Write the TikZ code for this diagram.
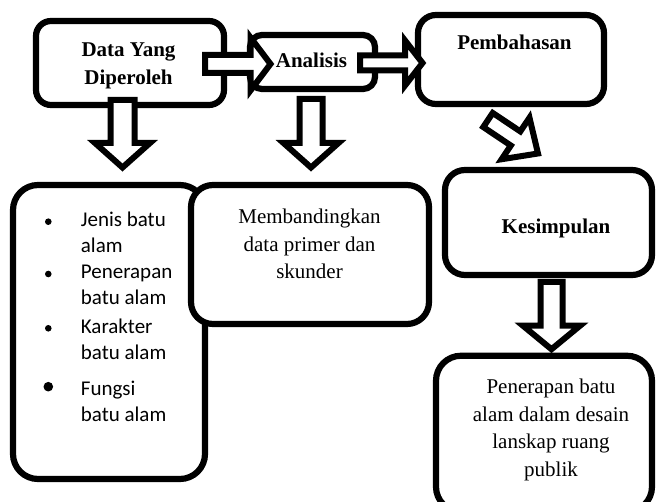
\documentclass[tikz,border=0pt]{standalone}
\usepackage{fontspec}
\setmainfont{Liberation Serif}
\newfontfamily\calfont{Carlito}
\usetikzlibrary{calc}
\tikzset{
  rbox/.style={draw=black, fill=white, line width=6.2pt, inner sep=0pt, outer sep=0pt},
  blk/.style={draw=black, fill=white, line width=6pt, line join=miter},
  ttl/.style={font=\fontsize{21}{26}\selectfont\bfseries, anchor=base, inner sep=0pt},
  txt/.style={font=\fontsize{21}{26}\selectfont, anchor=base, inner sep=0pt},
  itm/.style={font=\calfont\fontsize{21}{26}\selectfont, anchor=base west, inner sep=0pt},
}
% #1 tail, #2 tip, #3 shaft half width, #4 head half width, #5 head length
\newcommand\blockarrow[5]{%
  \coordinate (ab) at ($(#2)!#5pt!(#1)$);
  \draw[blk] ($(#1)!#3pt!90:(#2)$) -- ($(ab)!#3pt!90:(#2)$)
    -- ($(ab)!#4pt!90:(#2)$) -- (#2)
    -- ($(ab)!#4pt!-90:(#2)$) -- ($(ab)!#3pt!-90:(#2)$)
    -- ($(#1)!#3pt!-90:(#2)$) -- cycle;}
\begin{document}
\begin{tikzpicture}[x=1pt, y=-1pt]
  \useasboundingbox (0,0) rectangle (657,502);
  \clip (0,0) rectangle (657,502);

  % boxes
  \node[rbox, rounded corners=15pt, minimum width=188pt, minimum height=84pt] (b1) at (130,63) {};
  \node[rbox, rounded corners=12pt, minimum width=125pt, minimum height=54pt] (b2) at (312.5,62) {};
  \node[rbox, rounded corners=18pt, minimum width=186pt, minimum height=89pt] (b3) at (511,59.5) {};
  \node[rbox, rounded corners=25pt, minimum width=192pt, minimum height=294pt] (lst) at (109,332) {};
  \node[rbox, rounded corners=22pt, minimum width=238pt, minimum height=139pt] (mid) at (310,254.5) {};
  \node[rbox, rounded corners=20pt, minimum width=207pt, minimum height=105pt] (kes) at (548.5,222.5) {};
  \node[rbox, rounded corners=25pt, minimum width=216pt, minimum height=156pt] (fin) at (544,433.75) {};

  % connector end points
  \coordinate (a1s) at ($(b1.east)+(-19,1)$);
  \coordinate (a1e) at ($(b2.west)+(20.5,2)$);
  \coordinate (a2s) at ($(b2.east)+(-15,1)$);
  \coordinate (a2e) at ($(b3.west)+(4.5,3.5)$);
  \coordinate (a3s) at ($(b1.south)+(-7.5,-5)$);
  \coordinate (a3e) at ($(lst.north)+(13.5,-17.5)$);
  \coordinate (a4s) at ($(b2.south)+(-1.5,10)$);
  \coordinate (a4e) at ($(mid.north)+(1,-17.5)$);
  \coordinate (a5s) at ($(b3.south)+(-23,16)$);
  \coordinate (a5e) at ($(kes.north)+(-10.5,-16.5)$);
  \coordinate (a6s) at ($(kes.south)+(3,7)$);
  \coordinate (a6e) at ($(fin.north)+(7.5,-6.5)$);

  % block arrows
  \blockarrow{a1s}{a1e}{9}{26.5}{20}
  \blockarrow{a2s}{a2e}{7.5}{22.5}{17.5}
  \blockarrow{a3s}{a3e}{12}{27.5}{24.5}
  \blockarrow{a4s}{a4e}{11.5}{27.5}{24.5}
  \blockarrow{a5s}{a5e}{8.5}{25}{27}
  \blockarrow{a6s}{a6e}{11}{28.5}{23.5}

  % texts
  \node[ttl] (t1a) at (128.5,57) {Data Yang};
  \node[ttl] (t1b) at (128.5,85) {Diperoleh};
  \node[ttl] (t2) at (311.5,68) {Analisis};
  \node[ttl] (t3) at (514.5,50) {Pembahasan};
  \node[ttl] (t4) at (556,234) {Kesimpulan};

  \node[txt] (m1) at (309.5,224) {Membandingkan};
  \node[txt] (m2) at (309.5,251.5) {data primer dan};
  \node[txt] (m3) at (309.5,279) {skunder};

  \node[txt] (f1) at (551,393.3) {Penerapan batu};
  \node[txt] (f2) at (551,421.7) {alam dalam desain};
  \node[txt] (f3) at (551,449) {lanskap ruang};
  \node[txt] (f4) at (551,476.7) {publik};

  \fill (48.3,221.7) circle[radius=3.3pt];
  \fill (48.3,274) circle[radius=3.3pt];
  \fill (48.3,328.3) circle[radius=3.3pt];
  \fill (48.3,386.7) circle[radius=4.8pt];
  \node[itm] (l1) at (80.7,226.7) {Jenis batu};
  \node[itm] (l2) at (80.7,252.7) {alam};
  \node[itm] (l3) at (80.7,279) {Penerapan};
  \node[itm] (l4) at (80.7,305) {batu alam};
  \node[itm] (l5) at (80.7,333.3) {Karakter};
  \node[itm] (l6) at (80.7,359.3) {batu alam};
  \node[itm] (l7) at (80.7,395.7) {Fungsi};
  \node[itm] (l8) at (80.7,421.7) {batu alam};
\end{tikzpicture}
\end{document}
